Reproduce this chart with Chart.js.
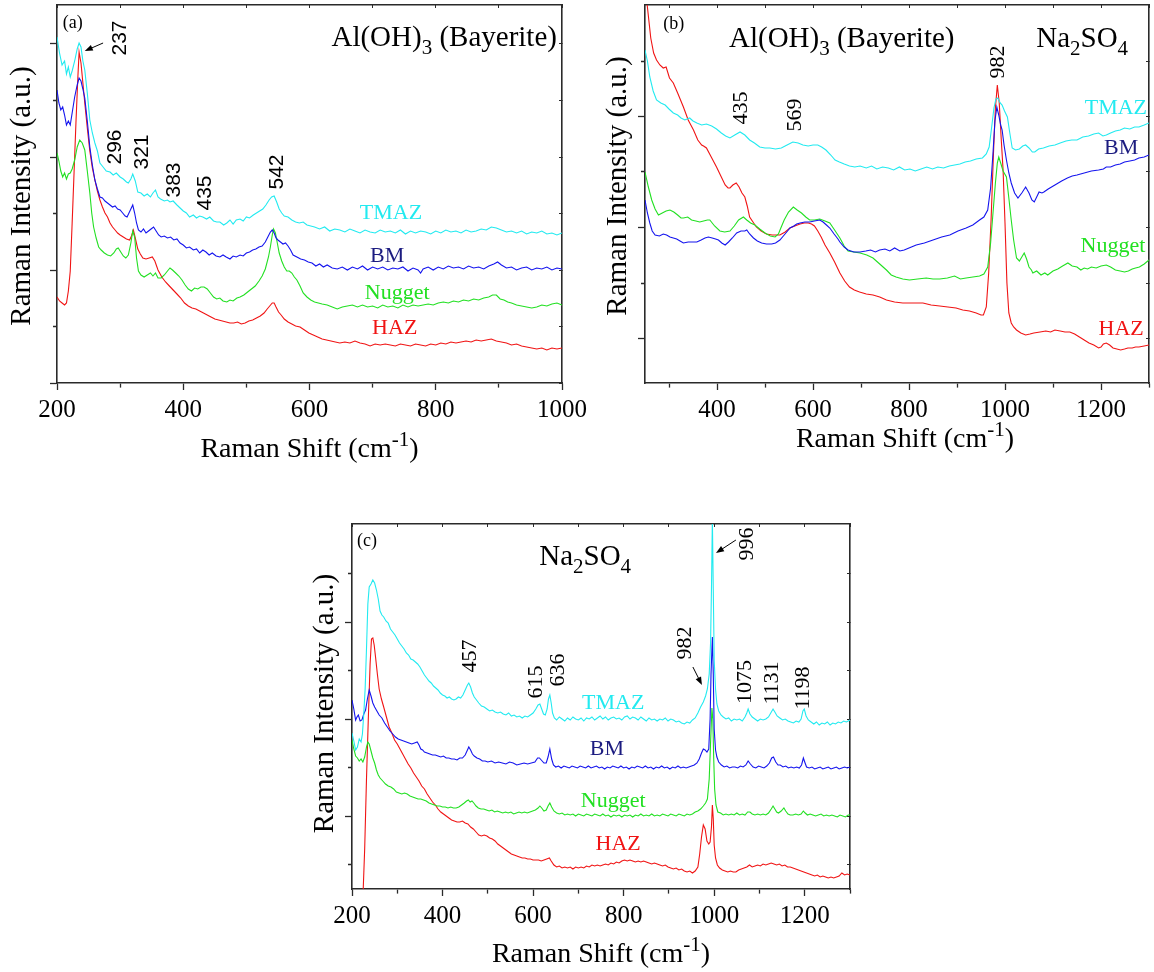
<!DOCTYPE html>
<html lang="en">
<head>
<meta charset="UTF-8">
<title>Raman spectra</title>
<script src="https://cdn.jsdelivr.net/npm/chart.js"></script>
<style>
  body { margin: 0; background: #fff; }
  #wrap { position: relative; width: 1154px; height: 972px; }
  canvas { position: absolute; }
</style>
</head>
<body>
<div id="wrap">
  <canvas id="panelA" width="600" height="470" style="left:0;top:0"></canvas>
  <canvas id="panelB" width="564" height="470" style="left:590px;top:0"></canvas>
  <canvas id="panelC" width="580" height="472" style="left:290px;top:500px"></canvas>
</div>

<script>
  // series names, same order in every panel
  const zones = ['TMAZ', 'BM', 'Nugget', 'HAZ'];

  // ---- panel (a): Raman shift (cm-1), intensity (a.u.) ----
  const aTMAZ = [[200,346],[204,330],[208,318],[212,322],[215,309],[218,316],[221,306],[224,312],[228,322],[232,334],[235,340],[238,336],[241,322],[244,313],[248,290],[252,263],[256,250],[260,240],[264,232],[268,220],[273,216],[278,212],[284,211],[289,208],[294,210],[300,206],[305,204],[310,201],[313,200],[317,204],[320,209],[324,202],[328,191],[333,190],[338,187],[343,189],[348,186],[352,190],[356,193],[360,186],[364,184],[370,182],[375,183],[379,181],[384,182],[390,178],[395,175],[400,172],[405,170],[410,166],[416,168],[421,165],[426,167],[431,166],[437,164],[442,166],[448,162],[453,161],[458,161],[464,158],[469,160],[474,163],[479,159],[484,163],[490,164],[495,162],[500,166],[505,165],[511,168],[516,170],[521,172],[526,174],[531,178],[536,183],[540,186],[544,187],[548,181],[552,174],[556,170],[560,167],[566,166],[572,163],[578,161],[584,160],[590,161],[596,158],[602,157],[608,156],[616,154],[624,156],[632,152],[640,154],[648,153],[656,151],[664,154],[672,152],[680,150],[688,153],[696,151],[704,150],[712,153],[720,151],[728,152],[736,150],[744,153],[752,149],[760,152],[768,150],[776,152],[784,151],[792,149],[800,152],[808,150],[816,153],[824,151],[832,152],[840,150],[848,153],[856,151],[864,152],[872,154],[880,153],[888,156],[896,155],[904,153],[912,151],[920,152],[928,150],[936,152],[944,149],[952,151],[960,150],[968,152],[976,149],[984,150],[992,148],[1000,150]];
  const aBM = [[200,293],[203,280],[206,273],[209,276],[212,268],[215,258],[218,262],[221,258],[224,270],[228,286],[232,298],[235,305],[238,302],[241,294],[244,285],[248,262],[252,236],[256,218],[260,203],[264,194],[268,186],[272,185],[276,182],[280,180],[284,178],[288,176],[292,177],[296,174],[300,173],[304,170],[308,167],[311,166],[314,170],[317,174],[320,178],[323,170],[326,160],[329,153],[333,151],[337,154],[341,150],[345,152],[349,154],[353,156],[357,152],[361,148],[365,146],[370,147],[375,145],[380,146],[385,143],[390,144],[395,140],[400,138],[405,135],[410,136],[416,133],[421,134],[426,130],[431,133],[436,131],[441,128],[446,130],[452,127],[458,126],[463,128],[468,126],[474,124],[479,127],[484,126],[490,128],[495,127],[500,130],[505,131],[510,133],[515,134],[520,136],[525,137],[530,141],[534,146],[538,151],[541,153],[544,150],[547,145],[550,143],[554,141],[558,139],[562,140],[566,137],[570,133],[574,128],[580,126],[586,124],[592,123],[598,121],[604,120],[610,117],[616,119],[622,116],[628,118],[636,115],[644,114],[652,116],[660,113],[668,116],[676,114],[684,117],[692,113],[700,116],[708,114],[716,116],[724,113],[732,115],[740,114],[748,116],[756,112],[764,115],[772,113],[776,110],[780,114],[788,116],[796,113],[804,116],[812,114],[820,117],[828,115],[836,116],[844,114],[852,117],[860,115],[868,116],[876,114],[884,117],[892,119],[898,121],[904,118],[912,115],[920,116],[928,113],[936,115],[944,116],[952,113],[960,115],[968,114],[976,116],[984,113],[992,115],[1000,114]];
  const aNugget = [[200,230],[203,222],[206,212],[209,206],[212,210],[215,204],[218,209],[221,210],[224,214],[228,223],[232,236],[236,243],[240,240],[244,233],[248,212],[252,190],[255,170],[258,156],[262,145],[266,136],[270,133],[275,130],[280,128],[285,127],[290,130],[294,134],[297,135],[301,131],[305,127],[309,125],[313,128],[317,140],[320,152],[323,146],[326,125],[329,112],[333,108],[338,106],[343,108],[348,110],[352,107],[356,110],[360,105],[365,105],[370,108],[375,112],[379,115],[383,113],[388,110],[393,107],[398,103],[403,98],[408,94],[413,92],[418,95],[423,94],[428,96],[433,96],[438,94],[443,90],[448,86],[453,84],[458,85],[463,82],[469,81],[474,83],[479,82],[485,85],[490,86],[496,88],[502,91],[508,94],[514,97],[520,102],[525,107],[530,114],[535,126],[538,136],[541,148],[543,154],[546,150],[549,140],[552,130],[556,122],[560,116],[564,112],[568,112],[572,110],[576,106],[580,103],[585,97],[590,90],[596,86],[602,83],[608,81],[614,80],[620,79],[628,78],[636,76],[644,74],[652,76],[660,77],[668,78],[676,76],[684,78],[692,76],[700,77],[708,75],[716,78],[724,76],[732,77],[740,75],[748,78],[756,76],[764,78],[772,77],[780,78],[788,79],[796,78],[804,80],[812,81],[820,80],[828,82],[836,81],[844,83],[852,82],[860,84],[868,83],[876,85],[884,86],[890,88],[896,88],[902,84],[908,83],[914,81],[920,80],[928,78],[936,77],[944,76],[952,75],[960,76],[968,78],[976,77],[984,79],[992,80],[1000,78]];
  const aHAZ = [[200,86],[204,82],[208,80],[212,78],[215,80],[218,92],[221,112],[224,160],[227,210],[230,260],[233,305],[235,331],[238,320],[241,300],[244,280],[248,255],[252,232],[256,215],[260,203],[264,192],[268,183],[272,176],[276,170],[280,166],[284,160],[288,156],[292,153],[296,150],[300,148],[305,146],[310,144],[315,143],[318,147],[321,153],[324,145],[328,134],[332,129],[336,125],[341,124],[346,125],[351,126],[355,122],[360,113],[366,106],[372,101],[378,97],[384,93],[390,89],[396,85],[402,80],[408,77],[414,75],[420,74],[426,72],[432,70],[438,68],[444,66],[450,64],[456,63],[462,62],[468,61],[474,60],[480,60],[486,61],[492,59],[498,60],[504,62],[510,63],[516,65],[522,67],[528,70],[533,74],[537,77],[541,80],[544,80],[547,76],[551,71],[555,68],[560,64],[566,61],[572,59],[578,57],[585,56],[592,53],[599,50],[606,48],[613,46],[620,44],[627,43],[634,42],[641,41],[648,40],[656,41],[664,40],[672,42],[680,40],[688,39],[696,37],[704,39],[712,38],[720,39],[728,38],[736,37],[744,39],[752,38],[760,37],[768,39],[776,38],[784,37],[792,39],[800,38],[808,40],[816,39],[824,41],[832,40],[840,41],[848,42],[856,41],[864,43],[872,42],[880,43],[888,44],[896,42],[904,41],[912,40],[920,38],[928,39],[936,37],[944,36],[952,35],[960,34],[968,35],[976,33],[984,35],[992,34],[1000,35]];

  // ---- panel (b) ----
  const bTMAZ = [[250,333],[255,322],[260,306],[267,292],[274,283],[283,280],[292,278],[300,274],[309,270],[318,268],[325,265],[333,263],[343,265],[350,262],[358,260],[368,258],[378,259],[389,257],[399,254],[409,250],[418,247],[427,245],[437,248],[448,251],[458,248],[468,243],[478,240],[489,236],[500,235],[510,235],[522,234],[534,235],[546,238],[558,241],[569,240],[579,238],[590,237],[600,238],[610,238],[618,236],[627,233],[637,228],[646,223],[655,221],[665,219],[676,217],[687,216],[698,217],[711,215],[722,217],[733,214],[745,216],[757,215],[768,213],[780,216],[791,213],[802,214],[813,212],[825,214],[837,216],[849,214],[860,216],[872,215],[884,217],[895,218],[906,219],[917,221],[928,222],[940,224],[953,225],[961,229],[967,236],[972,255],[977,275],[981,284],[985,285],[990,280],[994,278],[999,272],[1005,266],[1010,250],[1015,235],[1022,233],[1030,234],[1037,237],[1043,238],[1050,235],[1057,231],[1062,231],[1070,234],[1080,235],[1092,237],[1104,238],[1115,240],[1127,242],[1139,243],[1150,243],[1162,246],[1174,247],[1185,249],[1195,250],[1204,247],[1211,248],[1220,250],[1230,252],[1240,253],[1249,255],[1260,254],[1270,256],[1279,256],[1290,258],[1300,260]];
  const bBM = [[250,183],[255,170],[260,160],[265,152],[271,148],[280,147],[288,149],[295,148],[302,146],[309,145],[316,144],[323,142],[330,140],[340,141],[350,141],[358,141],[367,143],[375,145],[382,146],[390,145],[397,144],[403,143],[410,140],[417,138],[424,141],[432,145],[441,150],[450,152],[458,152],[462,153],[468,149],[476,145],[484,142],[493,140],[503,139],[514,139],[522,140],[531,143],[540,148],[547,152],[552,155],[560,157],[566,159],[573,160],[583,161],[593,161],[603,162],[614,163],[621,161],[628,158],[635,155],[644,149],[652,144],[656,141],[665,136],[673,133],[685,131],[698,131],[710,132],[720,133],[730,131],[739,133],[750,134],[760,132],[770,135],[781,132],[790,133],[800,135],[815,138],[832,140],[850,143],[868,146],[885,148],[902,152],[919,155],[933,158],[947,163],[956,166],[964,173],[970,195],[975,230],[979,262],[983,276],[987,268],[991,258],[994,253],[998,238],[1003,223],[1008,210],[1013,200],[1020,190],[1027,185],[1035,190],[1043,196],[1050,190],[1056,183],[1061,181],[1066,186],[1071,191],[1077,190],[1081,191],[1090,194],[1104,198],[1118,202],[1130,205],[1140,207],[1150,208],[1165,210],[1180,212],[1195,213],[1205,214],[1211,216],[1220,216],[1230,218],[1240,219],[1249,221],[1260,222],[1270,223],[1279,225],[1290,226],[1300,228]];
  const bNugget = [[250,211],[257,196],[264,183],[271,174],[278,168],[286,170],[294,172],[302,173],[310,171],[318,168],[325,165],[330,165],[339,166],[347,163],[356,162],[364,161],[372,162],[380,163],[385,163],[395,157],[406,152],[416,151],[427,152],[436,157],[445,163],[455,166],[462,163],[470,160],[479,158],[489,154],[500,150],[511,147],[521,146],[528,149],[533,155],[540,163],[549,171],[559,176],[567,173],[576,170],[585,166],[593,163],[603,163],[614,164],[625,162],[635,160],[645,153],[656,145],[665,137],[673,132],[685,131],[698,130],[712,128],[725,125],[739,119],[753,113],[763,108],[773,106],[787,104],[801,103],[818,104],[836,105],[850,104],[864,104],[880,105],[895,107],[907,104],[919,105],[933,106],[947,107],[956,109],[964,116],[970,140],[975,170],[980,200],[984,220],[987,226],[991,220],[996,212],[1003,206],[1008,185],[1013,163],[1018,143],[1024,125],[1030,122],[1035,126],[1040,130],[1045,124],[1050,116],[1055,113],[1058,110],[1066,112],[1075,108],[1083,110],[1089,108],[1100,112],[1110,114],[1120,117],[1131,120],[1140,117],[1150,116],[1158,113],[1165,115],[1172,114],[1180,116],[1190,115],[1200,117],[1211,118],[1220,116],[1230,113],[1240,112],[1249,111],[1257,112],[1265,114],[1272,115],[1280,116],[1290,119],[1300,123]];
  const bHAZ = [[250,400],[255,376],[262,345],[268,330],[274,323],[281,318],[288,315],[294,316],[301,305],[309,300],[318,290],[330,276],[340,263],[351,253],[360,243],[368,238],[372,237],[378,235],[388,226],[399,216],[408,207],[417,198],[423,195],[427,195],[433,198],[440,200],[446,196],[452,190],[458,186],[463,177],[468,166],[475,161],[482,156],[492,152],[503,149],[515,148],[531,148],[542,151],[552,155],[562,157],[573,159],[582,160],[590,160],[597,159],[603,157],[610,152],[617,146],[625,138],[635,130],[645,121],[656,110],[666,102],[676,96],[686,93],[697,91],[711,89],[725,88],[739,86],[753,83],[770,81],[787,80],[808,80],[829,80],[846,78],[864,77],[881,76],[898,75],[912,73],[926,72],[940,70],[950,68],[955,68],[961,76],[966,110],[971,163],[976,230],[980,275],[984,298],[988,280],[992,245],[996,213],[1000,160],[1004,100],[1008,70],[1013,60],[1018,56],[1024,53],[1033,50],[1043,48],[1052,49],[1060,50],[1073,51],[1085,52],[1095,51],[1104,53],[1115,52],[1125,51],[1135,51],[1145,49],[1155,46],[1165,43],[1175,40],[1185,38],[1195,35],[1200,36],[1205,39],[1211,40],[1218,38],[1225,35],[1233,34],[1241,33],[1249,34],[1256,35],[1265,35],[1272,36],[1279,36],[1290,37],[1300,38]];

  // ---- panel (c) ----
  const cTMAZ = [[200,156],[204,148],[208,139],[212,142],[216,150],[220,147],[223,155],[226,175],[229,200],[232,240],[235,285],[238,302],[242,305],[246,309],[250,306],[254,299],[258,290],[262,278],[266,274],[270,272],[275,268],[280,266],[285,260],[290,257],[295,254],[300,250],[305,246],[310,243],[315,240],[320,236],[325,234],[330,230],[335,229],[340,227],[345,225],[350,222],[355,218],[360,214],[365,211],[370,208],[375,206],[380,203],[385,201],[390,199],[395,196],[400,194],[405,193],[410,191],[415,192],[420,190],[425,189],[430,190],[435,192],[440,191],[445,194],[450,199],[455,204],[458,206],[462,202],[466,196],[470,192],[475,189],[480,186],[486,183],[492,182],[498,180],[504,178],[510,179],[516,177],[522,176],[528,177],[534,175],[540,174],[546,176],[552,173],[558,174],[564,172],[570,173],[576,171],[582,173],[588,172],[594,174],[600,176],[606,180],[611,184],[615,185],[619,180],[623,175],[627,174],[631,180],[634,190],[637,194],[640,186],[643,176],[647,171],[652,169],[658,172],[664,170],[670,168],[676,171],[682,169],[688,172],[694,170],[700,169],[706,171],[712,168],[718,171],[724,170],[730,172],[736,169],[742,171],[748,173],[754,170],[760,172],[766,169],[772,171],[778,172],[784,170],[790,171],[796,169],[802,172],[808,173],[814,170],[820,172],[826,171],[832,169],[838,172],[844,170],[850,168],[856,171],[862,169],[868,170],[874,168],[880,170],[886,169],[892,171],[898,168],[904,170],[910,169],[916,167],[922,168],[928,166],[934,165],[940,167],[946,166],[952,169],[958,171],[964,176],[970,182],[976,187],[981,193],[985,200],[989,215],[992,246],[994,300],[996,370],[998,300],[1000,229],[1003,200],[1006,185],[1010,178],[1015,174],[1020,172],[1026,170],[1032,171],[1038,168],[1044,170],[1050,169],[1056,170],[1062,168],[1068,172],[1072,176],[1075,180],[1079,175],[1084,172],[1090,170],[1096,168],[1102,170],[1108,169],[1114,170],[1120,172],[1125,176],[1130,180],[1134,177],[1139,173],[1145,171],[1151,169],[1157,170],[1163,168],[1169,167],[1175,166],[1181,168],[1187,167],[1192,170],[1196,178],[1199,180],[1203,173],[1208,169],[1214,167],[1220,165],[1226,167],[1232,164],[1238,166],[1244,165],[1250,167],[1256,164],[1262,166],[1268,165],[1274,167],[1280,166],[1286,168],[1292,167],[1300,169]];
  const cBM = [[200,189],[204,180],[208,169],[211,172],[214,174],[218,168],[222,169],[226,175],[230,179],[234,190],[238,199],[242,193],[246,186],[250,182],[255,178],[260,174],[266,171],[272,166],[278,162],[284,158],[290,155],[296,152],[302,150],[308,149],[314,148],[320,147],[326,146],[332,145],[338,146],[344,147],[348,144],[352,140],[356,139],[360,137],[366,136],[372,135],[378,134],[384,134],[390,133],[396,132],[402,133],[408,131],[414,131],[420,130],[426,130],[432,129],[438,131],[444,131],[450,134],[455,139],[458,142],[462,139],[466,135],[470,133],[476,131],[482,130],[488,128],[494,128],[500,127],[508,128],[516,126],[524,127],[532,126],[540,125],[548,127],[556,126],[564,124],[572,125],[580,126],[588,125],[596,126],[604,127],[610,131],[614,131],[618,129],[624,126],[629,126],[633,132],[637,140],[641,130],[645,124],[650,122],[656,123],[662,121],[668,123],[674,122],[680,121],[686,123],[692,122],[698,121],[704,123],[710,122],[716,121],[722,123],[728,121],[734,122],[740,123],[746,121],[752,122],[758,120],[764,122],[770,121],[776,123],[782,122],[788,121],[794,123],[800,121],[806,122],[812,120],[818,122],[824,121],[830,123],[836,122],[842,121],[848,123],[854,121],[860,122],[866,120],[872,122],[878,121],[884,123],[890,121],[896,122],[902,120],[908,122],[914,121],[920,123],[926,121],[932,122],[938,121],[944,122],[950,123],[956,124],[962,126],[967,130],[972,136],[976,140],[980,139],[984,137],[988,140],[991,170],[993,215],[996,252],[998,215],[1000,160],[1003,139],[1006,132],[1010,127],[1016,124],[1022,122],[1028,123],[1034,121],[1040,122],[1046,122],[1052,121],[1058,123],[1064,122],[1070,124],[1075,128],[1080,125],[1086,122],[1092,121],[1098,123],[1104,122],[1110,121],[1116,123],[1122,126],[1127,131],[1131,132],[1136,127],[1141,124],[1146,124],[1152,122],[1158,123],[1164,121],[1170,122],[1176,121],[1182,122],[1188,121],[1193,124],[1197,131],[1200,127],[1204,122],[1210,121],[1216,122],[1222,120],[1228,121],[1234,122],[1240,120],[1246,121],[1252,122],[1258,120],[1264,121],[1270,122],[1276,120],[1282,121],[1288,122],[1294,121],[1300,122]];
  const cNugget = [[200,149],[204,140],[208,133],[212,131],[216,128],[220,130],[224,127],[228,132],[232,142],[235,147],[238,145],[242,138],[246,131],[250,126],[254,119],[258,114],[262,111],[268,108],[274,105],[280,103],[286,102],[292,100],[298,97],[304,96],[310,95],[316,96],[322,95],[328,93],[334,92],[340,91],[346,90],[352,90],[358,89],[364,88],[370,86],[376,85],[382,84],[388,83],[394,83],[400,82],[406,82],[412,81],[418,82],[424,81],[430,81],[436,82],[442,84],[448,86],[453,88],[457,89],[461,87],[465,88],[469,86],[474,83],[479,81],[485,80],[491,80],[497,79],[503,78],[509,79],[515,77],[521,78],[527,77],[533,76],[539,77],[545,76],[551,77],[557,75],[563,76],[569,77],[575,76],[581,77],[587,76],[593,77],[599,78],[605,79],[611,81],[615,83],[619,81],[624,78],[629,79],[633,83],[637,86],[641,82],[646,78],[652,76],[658,75],[664,76],[670,74],[676,75],[682,74],[688,75],[694,73],[700,75],[706,74],[712,73],[718,75],[724,74],[730,73],[736,75],[742,74],[748,73],[754,75],[760,73],[766,74],[772,72],[778,74],[784,73],[790,74],[796,72],[802,74],[808,73],[814,74],[820,72],[826,74],[832,73],[838,75],[844,73],[850,74],[856,73],[862,75],[868,73],[874,74],[880,73],[886,75],[892,74],[898,73],[904,75],[910,74],[916,73],[922,75],[928,74],[934,73],[940,75],[946,74],[952,75],[958,77],[964,78],[970,80],[976,83],[981,86],[985,90],[989,110],[992,146],[995,181],[997,170],[999,130],[1001,100],[1004,84],[1008,77],[1014,76],[1020,74],[1026,75],[1032,74],[1038,75],[1044,74],[1050,76],[1056,74],[1062,75],[1068,74],[1074,77],[1079,77],[1084,75],[1090,74],[1096,75],[1102,74],[1108,75],[1114,74],[1120,76],[1126,80],[1130,83],[1134,80],[1138,77],[1142,76],[1148,78],[1154,81],[1158,78],[1163,75],[1168,74],[1174,74],[1180,75],[1186,74],[1192,75],[1197,78],[1201,76],[1206,74],[1212,75],[1218,74],[1224,73],[1230,74],[1236,75],[1242,73],[1248,74],[1254,73],[1260,74],[1266,73],[1272,72],[1278,74],[1284,73],[1290,72],[1296,74],[1300,74]];
  const cHAZ = [[224,-10],[228,40],[232,110],[236,170],[240,225],[243,250],[246,251],[249,244],[252,232],[256,215],[260,200],[265,190],[270,182],[276,172],[282,162],[288,156],[294,149],[300,145],[306,140],[312,135],[318,130],[324,125],[330,121],[336,116],[342,112],[348,108],[354,103],[360,100],[366,95],[372,91],[378,87],[384,84],[390,80],[396,77],[402,75],[408,73],[414,71],[420,69],[426,68],[432,67],[438,67],[444,68],[450,66],[456,65],[462,62],[468,60],[474,57],[480,54],[486,53],[492,54],[498,53],[504,51],[510,50],[516,48],[522,45],[528,43],[534,41],[540,39],[546,37],[552,35],[558,34],[564,33],[570,32],[576,31],[582,31],[588,30],[594,30],[600,29],[606,29],[612,29],[618,28],[624,29],[630,30],[636,31],[640,28],[646,24],[652,22],[658,23],[664,21],[670,22],[676,21],[682,22],[688,20],[694,22],[700,21],[706,22],[712,21],[718,23],[724,22],[730,24],[736,23],[742,24],[748,23],[754,24],[760,25],[766,24],[772,26],[778,25],[784,27],[790,26],[796,28],[802,29],[808,28],[814,29],[820,28],[826,27],[832,28],[838,27],[844,28],[850,27],[856,26],[862,25],[868,26],[874,25],[880,24],[886,23],[892,24],[898,22],[904,21],[910,20],[916,21],[922,19],[928,20],[934,18],[940,17],[946,18],[952,16],[958,18],[964,22],[968,35],[972,52],[976,64],[980,60],[984,48],[988,45],[991,47],[994,62],[996,84],[998,70],[1000,44],[1003,31],[1007,24],[1012,21],[1018,19],[1024,18],[1030,17],[1036,18],[1042,17],[1048,17],[1054,19],[1060,20],[1066,21],[1072,22],[1078,24],[1084,22],[1090,23],[1096,24],[1102,23],[1108,25],[1114,24],[1120,25],[1126,26],[1132,25],[1138,24],[1144,25],[1150,23],[1156,24],[1162,22],[1168,22],[1174,21],[1180,20],[1186,19],[1192,18],[1198,17],[1204,16],[1210,15],[1216,14],[1222,13],[1228,14],[1234,12],[1240,13],[1246,12],[1252,11],[1258,12],[1264,11],[1270,12],[1276,13],[1282,16],[1288,14],[1294,15],[1300,14]];

  // axis ticks
  const xTicksA = [200, 300, 400, 500, 600, 700, 800, 900, 1000];
  const xTicksB = [300, 400, 500, 600, 700, 800, 900, 1000, 1100, 1200, 1300];
  const xTicksC = [200, 300, 400, 500, 600, 700, 800, 900, 1000, 1100, 1200, 1300];
  const yTicksA = [0, 56.5, 113, 169.5, 226, 282.5, 339];
  const yMajorA = [0, 113, 226, 339];
  const yTicksB = [44.5, 100, 155.5, 211, 266.5, 322];
  const yMajorB = [44.5, 155.5, 266.5];
  const yTicksC = [24.5, 73, 121.5, 170, 218.5, 267, 315.5];
  const yMajorC = [73, 170, 267];

  const lineColors = { TMAZ: '#22eaf0', BM: '#1414ee', Nugget: '#22e022', HAZ: '#f01414' };
  const textColors = { TMAZ: '#22eaf0', BM: '#1c1c80', Nugget: '#22e022', HAZ: '#f01414' };
  const SERIF = '"Liberation Serif", "Times New Roman", serif';
  const SANS = '"Liberation Sans", Arial, sans-serif';
  const AXIS = '#2a2a2a';

  const alOH = [['Al(OH)'], ['3', 'sub'], [' (Bayerite)']];
  const naSO = [['Na'], ['2', 'sub'], ['SO'], ['4', 'sub']];

  // draws text made of normal / sub / sup pieces, centred on (x, y)
  function drawRich(ctx, parts, x, y, size, family, color, align, rot) {
    if (typeof parts === 'string') parts = [[parts]];
    const big = size + 'px ' + family;
    const small = Math.round(size * 0.74) + 'px ' + family;
    let w = 0;
    parts.forEach(([t, k]) => { ctx.font = k ? small : big; w += ctx.measureText(t).width; });
    ctx.save();
    ctx.translate(x, y);
    if (rot) ctx.rotate(-Math.PI / 2);
    ctx.fillStyle = color;
    ctx.textAlign = 'left';
    ctx.textBaseline = 'alphabetic';
    let cx = align === 'right' ? -w : align === 'left' ? 0 : -w / 2;
    parts.forEach(([t, k]) => {
      ctx.font = k ? small : big;
      const off = k === 'sub' ? size * 0.3 : k === 'sup' ? -size * 0.4 : 0;
      ctx.fillText(t, cx, size * 0.33 + off);
      cx += ctx.measureText(t).width;
    });
    ctx.restore();
  }

  function drawArrow(ctx, x1, y1, x2, y2) {
    const a = Math.atan2(y2 - y1, x2 - x1);
    ctx.save();
    ctx.strokeStyle = '#000';
    ctx.fillStyle = '#000';
    ctx.lineWidth = 1;
    ctx.beginPath();
    ctx.moveTo(x1, y1);
    ctx.lineTo(x2 - 5 * Math.cos(a), y2 - 5 * Math.sin(a));
    ctx.stroke();
    ctx.beginPath();
    ctx.moveTo(x2, y2);
    ctx.lineTo(x2 - 8 * Math.cos(a) + 3 * Math.sin(a), y2 - 8 * Math.sin(a) - 3 * Math.cos(a));
    ctx.lineTo(x2 - 8 * Math.cos(a) - 3 * Math.sin(a), y2 - 8 * Math.sin(a) + 3 * Math.cos(a));
    ctx.closePath();
    ctx.fill();
    ctx.restore();
  }

  const notesPlugin = {
    id: 'notes',
    afterDraw(chart) {
      const p = chart.options.plugins.notes;
      const ctx = chart.ctx, xs = chart.scales.x, ys = chart.scales.y, area = chart.chartArea;
      // axis titles
      const midX = (area.left + area.right) / 2, midY = (area.top + area.bottom) / 2;
      drawRich(ctx, [['Raman Shift (cm'], ['-1', 'sup'], [')']],
        midX + p.xTitle[0], area.bottom + p.xTitle[1], 28, SERIF, '#000', 'center', false);
      drawRich(ctx, 'Raman Intensity (a.u.)',
        area.left + p.yTitle[0], midY + p.yTitle[1], 29, SERIF, '#000', 'center', true);
      p.items.forEach(n => {
        drawRich(ctx, n.t, xs.getPixelForValue(n.x), ys.getPixelForValue(n.y),
          n.size, n.family || SERIF, n.color || '#000', n.align || 'center', n.rot);
      });
      (p.arrows || []).forEach(a => drawArrow(ctx,
        xs.getPixelForValue(a[0]), ys.getPixelForValue(a[1]),
        xs.getPixelForValue(a[2]), ys.getPixelForValue(a[3])));
    }
  };

  function makePanel(id, cfg) {
    const datasets = cfg.series.map((pts, i) => ({
      label: zones[i],
      data: pts.map(([x, y]) => ({ x, y })),
      borderColor: lineColors[zones[i]],
      borderWidth: 1.1,
      pointRadius: 0,
      tension: 0,
      fill: false
    }));
    const isMajorX = v => v % 200 === 0;
    const frame = { color: AXIS, width: 1.6 };
    return new Chart(document.getElementById(id), {
      type: 'line',
      data: { datasets },
      options: {
        responsive: false,
        animation: false,
        events: [],
        layout: { padding: 0 },
        plugins: {
          legend: { display: false },
          tooltip: { enabled: false },
          notes: cfg.notes
        },
        scales: {
          x: {
            type: 'linear', position: 'bottom', min: cfg.xMin, max: cfg.xMax,
            afterBuildTicks: s => { s.ticks = cfg.xTicks.map(v => ({ value: v })); },
            afterFit: s => { s.height = cfg.box[3]; },
            border: frame,
            grid: {
              drawOnChartArea: false, tickLength: 7, tickColor: AXIS, tickWidth: 1.3,
              tickBorderDash: c => isMajorX(c.tick.value) ? [] : [4, 100]
            },
            ticks: {
              autoSkip: false, maxRotation: 0, padding: 5, color: '#000',
              font: { family: SERIF, size: 25 },
              callback: v => isMajorX(v) ? String(v) : ''
            }
          },
          x2: {
            type: 'linear', position: 'top', min: cfg.xMin, max: cfg.xMax,
            afterBuildTicks: s => { s.ticks = cfg.xTicks.map(v => ({ value: v })); },
            afterFit: s => { s.height = cfg.box[1]; },
            border: frame,
            grid: { drawOnChartArea: false, tickLength: -3, tickColor: AXIS, tickWidth: 1 },
            ticks: { display: false }
          },
          y: {
            type: 'linear', position: 'left', min: cfg.yMin, max: cfg.yMax,
            afterBuildTicks: s => { s.ticks = cfg.yTicks.map(v => ({ value: v })); },
            afterFit: s => { s.width = cfg.box[0]; },
            border: frame,
            grid: {
              drawOnChartArea: false, tickLength: 7, tickColor: AXIS, tickWidth: 1.3,
              tickBorderDash: c => cfg.yMajor.includes(c.tick.value) ? [] : [0, 3, 4, 100]
            },
            ticks: { display: false }
          },
          y2: {
            type: 'linear', position: 'right', min: cfg.yMin, max: cfg.yMax,
            afterBuildTicks: s => { s.ticks = cfg.yTicks.map(v => ({ value: v })); },
            afterFit: s => { s.width = cfg.box[2]; },
            border: frame,
            grid: { drawOnChartArea: false, tickLength: -3, tickColor: AXIS, tickWidth: 1 },
            ticks: { display: false }
          }
        }
      },
      plugins: [notesPlugin]
    });
  }

  function zoneLabels(pos, size) {
    return zones.map((z, i) => ({ t: z, x: pos[i][0], y: pos[i][1], size, color: textColors[z] }));
  }

  makePanel('panelA', {
    series: [aTMAZ, aBM, aNugget, aHAZ],
    xMin: 200, xMax: 1000, yMin: 0, yMax: 378,
    xTicks: xTicksA, yTicks: yTicksA, yMajor: yMajorA,
    box: [57, 5, 38, 87],
    notes: {
      xTitle: [0, 65], yTitle: [-37, 2],
      items: [
        { t: '(a)', x: 225, y: 361, size: 18 },
        { t: alOH, x: 992, y: 347, size: 29, align: 'right' },
        { t: '237', x: 298, y: 345, size: 21, family: SANS, rot: true },
        { t: '296', x: 290, y: 236, size: 21, family: SANS, rot: true },
        { t: '321', x: 333, y: 231, size: 21, family: SANS, rot: true },
        { t: '383', x: 384, y: 203, size: 21, family: SANS, rot: true },
        { t: '435', x: 433, y: 190, size: 21, family: SANS, rot: true },
        { t: '542', x: 547, y: 211, size: 21, family: SANS, rot: true }
      ].concat(zoneLabels([[729, 171], [723, 128], [739, 91], [735, 56]], 22)),
      arrows: [[273, 340, 244, 332]]
    }
  });

  makePanel('panelB', {
    series: [bTMAZ, bBM, bNugget, bHAZ],
    xMin: 250, xMax: 1300, yMin: 0, yMax: 378,
    xTicks: xTicksB, yTicks: yTicksB, yMajor: yMajorB,
    box: [55, 5, 4, 87],
    notes: {
      xTitle: [8, 55], yTitle: [-29, -8],
      items: [
        { t: '(b)', x: 310, y: 360, size: 18 },
        { t: alOH, x: 425, y: 346, size: 29, align: 'left' },
        { t: naSO, x: 1065, y: 346, size: 29, align: 'left' },
        { t: '982', x: 982, y: 321, size: 22, rot: true },
        { t: '435', x: 447, y: 275, size: 22, rot: true },
        { t: '569', x: 560, y: 268, size: 22, rot: true }
      ].concat(zoneLabels([[1231, 276], [1242, 236], [1225, 138], [1242, 55]], 22))
    }
  });

  makePanel('panelC', {
    series: [cTMAZ, cBM, cNugget, cHAZ],
    xMin: 200, xMax: 1300, yMin: 0, yMax: 365,
    xTicks: xTicksC, yTicks: yTicksC, yMajor: yMajorC,
    box: [62, 24, 20, 83],
    notes: {
      xTitle: [0, 64], yTitle: [-29, -3],
      items: [
        { t: '(c)', x: 233, y: 349, size: 18 },
        { t: naSO, x: 715, y: 334, size: 29 },
        { t: '457', x: 458, y: 233, size: 22, rot: true },
        { t: '615', x: 604, y: 207, size: 22, rot: true },
        { t: '636', x: 653, y: 219, size: 22, rot: true },
        { t: '982', x: 933, y: 246, size: 22, rot: true },
        { t: '996', x: 1070, y: 345, size: 22, rot: true },
        { t: '1075', x: 1066, y: 207, size: 22, rot: true },
        { t: '1131', x: 1126, y: 206, size: 22, rot: true },
        { t: '1198', x: 1194, y: 201, size: 22, rot: true }
      ].concat(zoneLabels([[777, 187], [763, 141], [777, 89], [788, 46]], 22)),
      arrows: [[953, 222, 973, 204], [1048, 349, 1004, 336]]
    }
  });
</script>
</body>
</html>
